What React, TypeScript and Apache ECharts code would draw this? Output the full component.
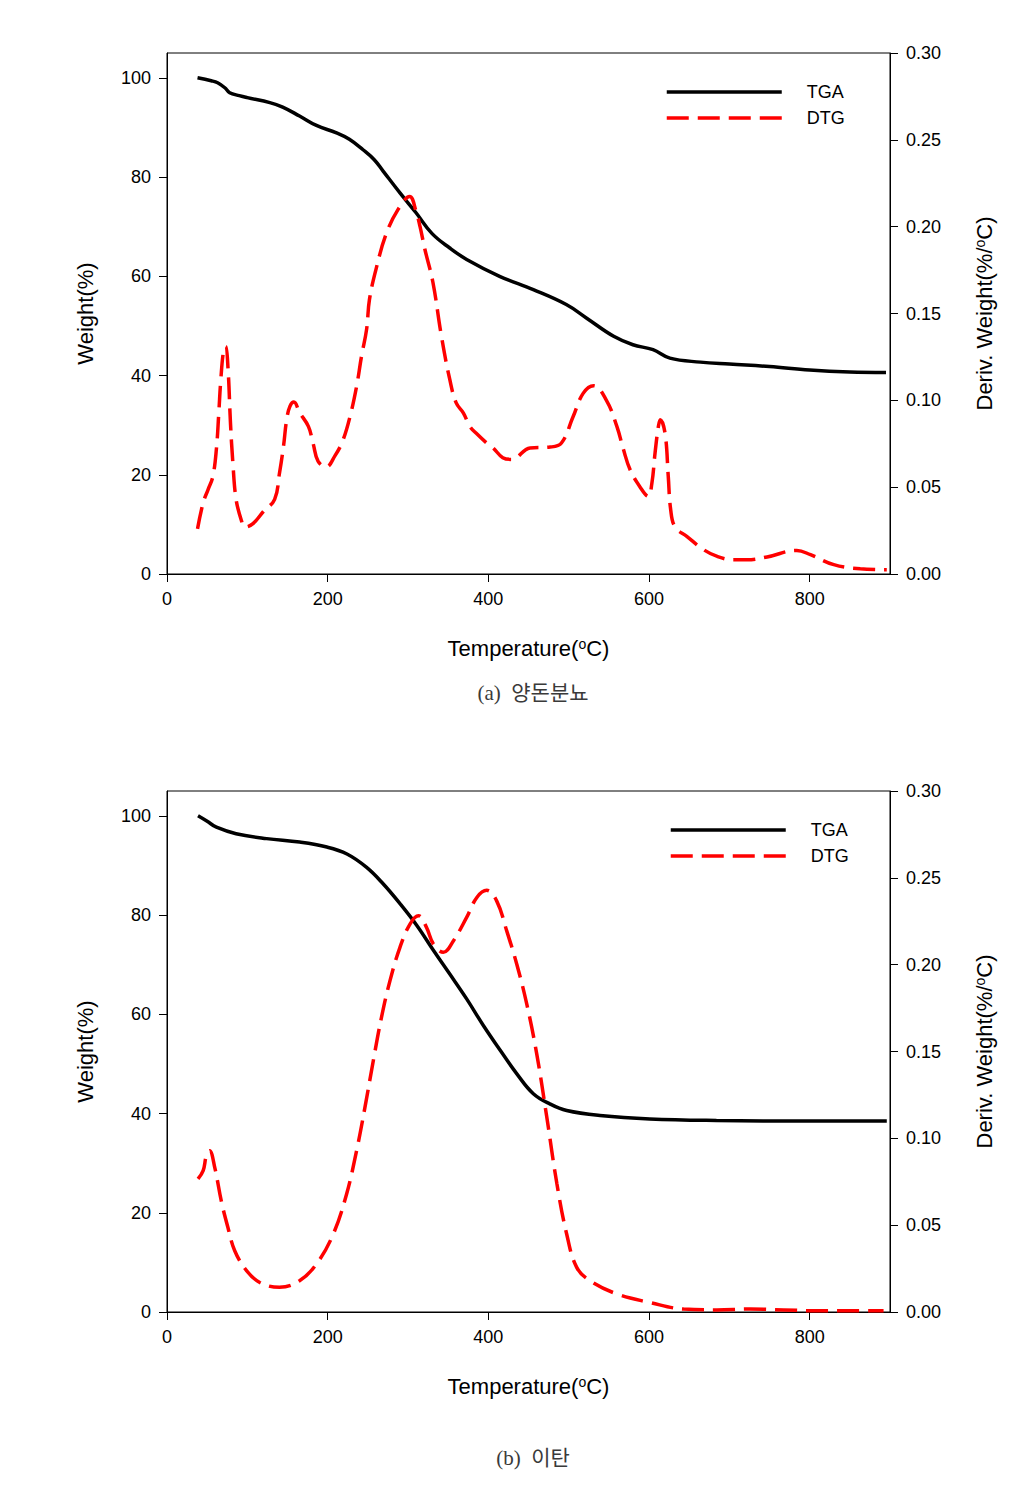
import React, { useEffect, useRef } from "react";
import * as echarts from "echarts";

// ---- Chart (a) 양돈분뇨 ----
const tgaA_T = [38, 55, 63, 72, 78, 90, 100, 128, 144, 165, 186, 211, 227, 244, 258, 269, 290, 310, 330, 352, 373, 414, 456, 497, 522, 556, 580, 605, 626, 664, 700, 750, 800, 850, 895];
const tgaA_W = [100, 99.4, 99.0, 98.0, 97.0, 96.4, 96.0, 95.0, 94.1, 92.3, 90.4, 88.9, 87.6, 85.5, 83.5, 81.2, 76.8, 72.8, 68.6, 65.7, 63.4, 60.0, 57.3, 54.3, 51.6, 47.9, 46.2, 45.2, 43.5, 42.7, 42.3, 41.8, 41.1, 40.7, 40.6];

const dtgA_T = [38, 45, 51, 57, 61.5, 64.5, 67, 70.5, 73, 76, 79, 82, 86, 92.5, 97, 107, 120, 134, 140, 145, 149, 153, 158, 165, 176, 182, 188, 198, 209, 219, 228, 236, 242, 248.5, 252, 261, 273, 287.5, 302, 310.5, 315, 321, 331, 341.6, 352, 360, 369, 377, 385, 398, 406, 418, 429, 452, 477, 491, 505.6, 518, 531, 547, 560, 568, 576.5, 589, 599, 603.5, 607.6, 611.7, 614, 620, 624, 627, 632.5, 647, 668, 685, 705, 722, 747, 784, 801, 830, 863, 896];
const dtgA_D = [0.026, 0.041, 0.0485, 0.056, 0.072, 0.093, 0.112, 0.129, 0.131, 0.118, 0.087, 0.064, 0.043, 0.031, 0.027, 0.029, 0.036, 0.043, 0.058, 0.0735, 0.089, 0.0965, 0.099, 0.093, 0.085, 0.075, 0.065, 0.0616, 0.068, 0.077, 0.091, 0.108, 0.125, 0.141, 0.158, 0.177, 0.196, 0.2098, 0.2174, 0.208, 0.2, 0.187, 0.168, 0.137, 0.112, 0.0985, 0.0927, 0.085, 0.081, 0.0754, 0.0726, 0.067, 0.066, 0.0726, 0.0731, 0.0754, 0.0907, 0.104, 0.1084, 0.1, 0.085, 0.072, 0.06, 0.05, 0.0447, 0.052, 0.07, 0.085, 0.0888, 0.081, 0.056, 0.037, 0.027, 0.0217, 0.014, 0.0101, 0.0082, 0.0082, 0.0098, 0.0136, 0.0111, 0.0054, 0.003, 0.0025];

// ---- Chart (b) 이탄 ----
const tgaB_T = [38.6, 50, 61.5, 86, 124, 165, 199, 224, 248.5, 269, 290, 311, 332, 352, 373, 394, 415, 435.5, 456, 477, 497.5, 539, 601, 684, 800, 896];
const tgaB_W = [100, 98.9, 97.7, 96.4, 95.4, 94.7, 93.7, 92.3, 89.6, 86.3, 82.3, 77.9, 72.8, 68.1, 63.1, 57.7, 52.7, 48.0, 44.0, 41.9, 40.6, 39.6, 38.9, 38.6, 38.5, 38.5];

const dtgB_T = [38.6, 45, 49, 53, 59.4, 67.7, 76, 84.3, 99, 115.5, 140, 165, 186, 207, 223.6, 236, 246.4, 256.8, 267, 277.6, 290, 302.5, 313, 323, 331.6, 344, 356.6, 373, 385.7, 398, 410.5, 423, 435.5, 448, 460.4, 472.8, 485.4, 497.5, 510, 526.6, 560, 601, 643, 684.5, 726, 767.6, 809, 892];
const dtgB_D = [0.0766, 0.0814, 0.09, 0.0929, 0.0833, 0.0637, 0.0484, 0.0353, 0.0238, 0.017, 0.0142, 0.018, 0.0276, 0.0449, 0.068, 0.0929, 0.1178, 0.1447, 0.1697, 0.1908, 0.21, 0.2234, 0.2282, 0.2215, 0.2119, 0.2071, 0.2138, 0.2272, 0.2387, 0.2428, 0.2366, 0.2193, 0.2001, 0.177, 0.1482, 0.1121, 0.0737, 0.0449, 0.0257, 0.018, 0.0104, 0.0055, 0.0017, 0.0012, 0.0017, 0.0012, 0.0007, 0.0007];

const xTicks = [0, 200, 400, 600, 800];
const leftTicks = [0, 20, 40, 60, 80, 100];
const captions = ["(a)  양돈분뇨", "(b)  이탄"];
const legendNames = ["TGA", "DTG"];

const zip = (a: number[], b: number[]) => a.map((v, i) => [v, b[i]]);

const FONT = "'Liberation Sans', Arial, sans-serif";

export default function App() {
  const ref = useRef<HTMLDivElement>(null);
  useEffect(() => {
    if (!ref.current) return;
    const chart = echarts.init(ref.current, null, { renderer: "svg" });
    const gridTops = [53, 791];
    const gridH = 521;
    const axisLine = { show: true, lineStyle: { color: "#000", width: 1 } };
    const axisTick = { show: true, inside: false, length: 8, lineStyle: { color: "#000", width: 1 } };
    const lbl = { color: "#000", fontSize: 18, fontFamily: FONT, margin: 16 };
    const nameStyle = {
      color: "#000",
      fontSize: 22,
      fontFamily: FONT,
      rich: {
        sup: { fontSize: 14, fontFamily: FONT, color: "#000", verticalAlign: "top", lineHeight: 14 },
      },
    };

    const grid: any[] = [];
    const xAxis: any[] = [];
    const yAxis: any[] = [];
    const series: any[] = [];
    const legend: any[] = [];
    const graphic: any[] = [];

    const sets = [
      { tga: zip(tgaA_T, tgaA_W), dtg: zip(dtgA_T, dtgA_D) },
      { tga: zip(tgaB_T, tgaB_W), dtg: zip(dtgB_T, dtgB_D) },
    ];

    sets.forEach((s, i) => {
      grid.push({
        left: 167,
        width: 723,
        top: gridTops[i],
        height: gridH,
        show: true,
        borderColor: "#000",
        borderWidth: 1,
        backgroundColor: "transparent",
      });
      xAxis.push({
        type: "value",
        gridIndex: i,
        min: 0,
        max: 900,
        axisLine,
        axisTick: { ...axisTick, customValues: xTicks },
        axisLabel: { ...lbl, margin: 16, customValues: xTicks },
        splitLine: { show: false },
        name: "Temperature({sup|o}C)",
        nameLocation: "middle",
        nameGap: 63,
        nameTextStyle: nameStyle,
      });
      yAxis.push({
        type: "value",
        gridIndex: i,
        position: "left",
        min: 0,
        max: 105,
        axisLine,
        axisTick: { ...axisTick, customValues: leftTicks },
        axisLabel: { ...lbl, customValues: leftTicks },
        splitLine: { show: false },
        name: "Weight(%)",
        nameLocation: "middle",
        nameGap: 71,
        nameTextStyle: nameStyle,
      });
      yAxis.push({
        type: "value",
        gridIndex: i,
        position: "right",
        min: 0,
        max: 0.3,
        interval: 0.05,
        axisLine,
        axisTick,
        axisLabel: { ...lbl, formatter: (v: number) => v.toFixed(2) },
        splitLine: { show: false },
        name: "Deriv. Weight(%/{sup|o}C)",
        nameLocation: "middle",
        nameGap: 83,
        nameRotate: 90,
        nameTextStyle: nameStyle,
      });
      series.push({
        name: "TGA",
        type: "line",
        xAxisIndex: i,
        yAxisIndex: i * 2,
        data: s.tga,
        showSymbol: false,
        symbol: "none",
        smooth: 0.4,
        lineStyle: { color: "#000", width: 3.5 },
        itemStyle: { color: "#000" },
      });
      series.push({
        name: "DTG",
        type: "line",
        xAxisIndex: i,
        yAxisIndex: i * 2 + 1,
        data: s.dtg,
        showSymbol: false,
        symbol: "none",
        smooth: 0.4,
        lineStyle: { color: "#ff0000", width: 3.5, type: [22, 9] },
        itemStyle: { color: "#ff0000" },
      });
      legend.push({
        data: legendNames,
        orient: "vertical",
        left: i === 0 ? 660 : 664,
        top: gridTops[i] + 25,
        itemWidth: 115,
        itemHeight: 14,
        itemGap: 8,
        itemStyle: { color: "transparent", borderColor: "transparent", borderWidth: 0 },
        lineStyle: { width: 3.5 },
        textStyle: { color: "#000", fontSize: 18, fontFamily: FONT, padding: [0, 0, 0, 20] },
        selectedMode: false,
      });
      graphic.push({
        type: "text",
        x: 533,
        y: i === 0 ? 693 : 1458,
        style: {
          text: captions[i],
          textAlign: "center",
          textVerticalAlign: "middle",
          fontSize: 21,
          fontFamily: "serif, 'Noto Sans CJK KR'",
          fill: "#3a3a3a",
        },
      });
    });

    chart.setOption({
      animation: false,
      backgroundColor: "#fff",
      grid,
      xAxis,
      yAxis,
      series,
      legend,
      graphic,
    });
    return () => chart.dispose();
  }, []);
  return (
    <div
      ref={ref}
      style={{ position: "absolute", left: 0, top: 0, width: 1029, height: 1488 }}
    />
  );
}
